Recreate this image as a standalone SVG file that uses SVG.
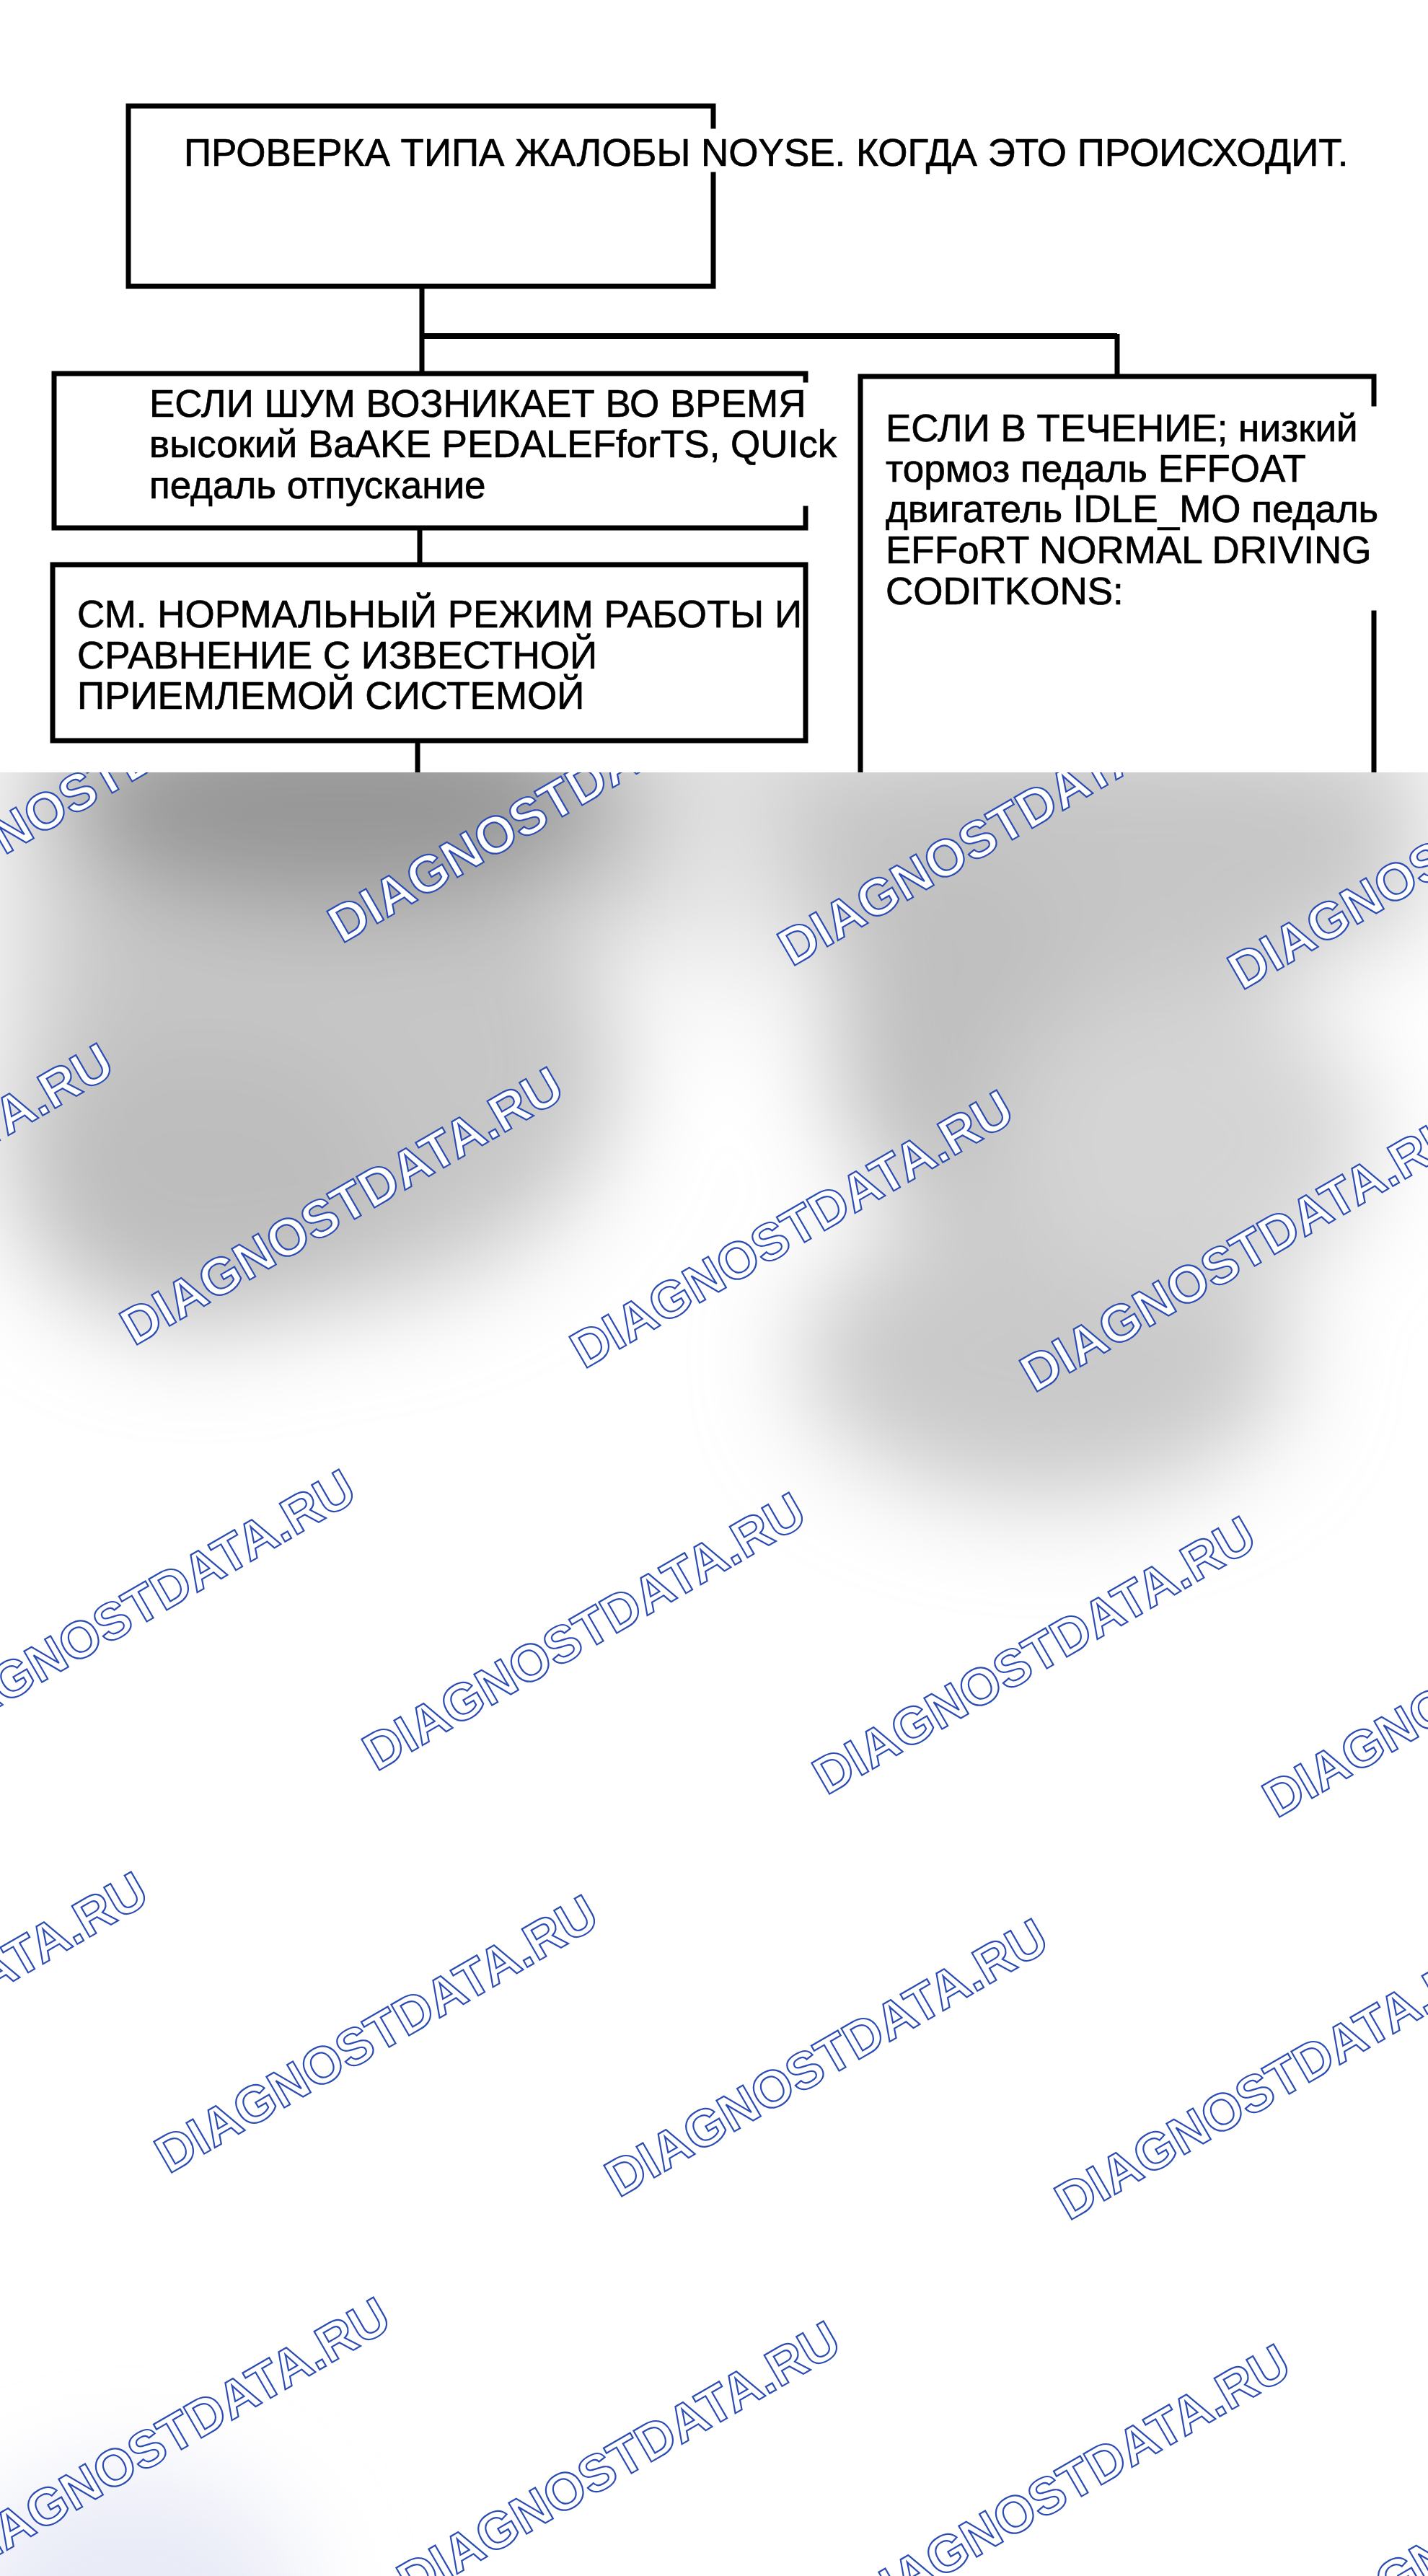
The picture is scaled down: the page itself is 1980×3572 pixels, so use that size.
<svg xmlns="http://www.w3.org/2000/svg" width="1980" height="3572" viewBox="0 0 1980 3572">
<style>
.box{fill:none;stroke:#000;stroke-width:7;stroke-linecap:square;stroke-linejoin:miter}
.con{fill:none;stroke:#000;stroke-width:7;stroke-linecap:butt}
.t{font-family:"Liberation Sans",Arial,sans-serif;fill:#000;stroke:#000;stroke-width:0.7}
.t53{font-size:53px}
.t52{font-size:53px}
.wm{font-family:"Liberation Sans",Arial,sans-serif;font-weight:bold;font-size:72px;fill:#fff;stroke:#2b4bb5;stroke-width:2.2}
</style>
<defs>
<filter id="blur" x="-100%" y="-100%" width="300%" height="300%"><feGaussianBlur stdDeviation="70"/></filter>
<clipPath id="lower"><rect x="0" y="1071" width="1980" height="2501"/></clipPath>
</defs>
<rect x="0" y="0" width="1980" height="3572" fill="#fff"/>
<g id="connectors">
<path class="con" d="M585,397 V466"/>
<path class="con" style="stroke-width:8" d="M582,466 H1549"/>
<path class="con" d="M1549,463 V522"/>
<path class="con" d="M585,466 V518"/>
<path class="con" d="M582,732 V783"/>
<path class="con" d="M579,1027 V1080"/>
</g>
<g id="node-top">
<path class="box" d="M989,175 V147 H178 V397 H989 V242"/>
<text class="t t53" x="255" y="230">ПРОВЕРКА ТИПА ЖАЛОБЫ NOYSE. КОГДА ЭТО ПРОИСХОДИТ.</text>
</g>
<g id="node-left1">
<path class="box" d="M1117,527 V518 H75 V732 H1117 V705"/>
<text class="t t52"><tspan x="207" y="578">ЕСЛИ ШУМ ВОЗНИКАЕТ ВО ВРЕМЯ</tspan><tspan x="207" y="634">высокий BaAKE PEDALEFforTS, QUIck</tspan><tspan x="207" y="691">педаль отпускание</tspan></text>
</g>
<g id="node-left2">
<rect class="box" x="73" y="783" width="1044" height="244"/>
<text class="t t52"><tspan x="107" y="870">СМ. НОРМАЛЬНЫЙ РЕЖИМ РАБОТЫ И</tspan><tspan x="107" y="927">СРАВНЕНИЕ С ИЗВЕСТНОЙ</tspan><tspan x="107" y="983">ПРИЕМЛЕМОЙ СИСТЕМОЙ</tspan></text>
</g>
<g id="node-right">
<path class="box" d="M1905,560 V522 H1193 V1080"/>
<path class="box" d="M1905,850 V1080"/>
<text class="t t52"><tspan x="1228" y="612">ЕСЛИ В ТЕЧЕНИЕ; низкий</tspan><tspan x="1228" y="668">тормоз педаль EFFOAT</tspan><tspan x="1228" y="724">двигатель IDLE_MO педаль</tspan><tspan x="1228" y="781">EFFoRT NORMAL DRIVING</tspan><tspan x="1228" y="838">CODITKONS:</tspan></text>
</g>
<g id="overlay">
<rect x="0" y="1071" width="1980" height="2501" fill="#fff"/>
<g clip-path="url(#lower)">
<g filter="url(#blur)">
<rect x="0" y="1000" width="1980" height="300" fill="#d2d2d2"/>
<ellipse cx="420" cy="1480" rx="440" ry="330" fill="#c6c6c6"/>
<ellipse cx="280" cy="1640" rx="260" ry="200" fill="#bdbdbd"/>
<ellipse cx="470" cy="1110" rx="390" ry="150" fill="#979797"/>
<ellipse cx="1500" cy="1200" rx="420" ry="200" fill="#c6c6c6"/>
<ellipse cx="1330" cy="1430" rx="180" ry="260" fill="#bfbfbf"/>
<ellipse cx="1450" cy="1880" rx="340" ry="200" fill="#c9c9c9"/>
<ellipse cx="1640" cy="1580" rx="260" ry="220" fill="#d4d4d4"/>
<ellipse cx="1010" cy="1250" rx="60" ry="200" fill="#ececec"/>
<ellipse cx="20" cy="1300" rx="50" ry="250" fill="#e6e6e6"/>
<ellipse cx="180" cy="3600" rx="240" ry="170" fill="#e8eaf6"/>
</g>
<g id="watermarks">
<text class="wm" transform="translate(-150,1276) rotate(-30)">DIAGNOSTDATA.RU</text>
<text class="wm" transform="translate(474,1309) rotate(-30)">DIAGNOSTDATA.RU</text>
<text class="wm" transform="translate(1098,1341) rotate(-30)">DIAGNOSTDATA.RU</text>
<text class="wm" transform="translate(1722,1374) rotate(-30)">DIAGNOSTDATA.RU</text>
<text class="wm" transform="translate(-438,1834) rotate(-30)">DIAGNOSTDATA.RU</text>
<text class="wm" transform="translate(186,1867) rotate(-30)">DIAGNOSTDATA.RU</text>
<text class="wm" transform="translate(810,1899) rotate(-30)">DIAGNOSTDATA.RU</text>
<text class="wm" transform="translate(1434,1932) rotate(-30)">DIAGNOSTDATA.RU</text>
<text class="wm" transform="translate(-102,2425) rotate(-30)">DIAGNOSTDATA.RU</text>
<text class="wm" transform="translate(522,2457) rotate(-30)">DIAGNOSTDATA.RU</text>
<text class="wm" transform="translate(1146,2490) rotate(-30)">DIAGNOSTDATA.RU</text>
<text class="wm" transform="translate(1770,2522) rotate(-30)">DIAGNOSTDATA.RU</text>
<text class="wm" transform="translate(-390,2983) rotate(-30)">DIAGNOSTDATA.RU</text>
<text class="wm" transform="translate(234,3015) rotate(-30)">DIAGNOSTDATA.RU</text>
<text class="wm" transform="translate(858,3048) rotate(-30)">DIAGNOSTDATA.RU</text>
<text class="wm" transform="translate(1482,3080) rotate(-30)">DIAGNOSTDATA.RU</text>
<text class="wm" transform="translate(-54,3573) rotate(-30)">DIAGNOSTDATA.RU</text>
<text class="wm" transform="translate(570,3606) rotate(-30)">DIAGNOSTDATA.RU</text>
<text class="wm" transform="translate(1194,3638) rotate(-30)">DIAGNOSTDATA.RU</text>
<text class="wm" transform="translate(1818,3671) rotate(-30)">DIAGNOSTDATA.RU</text>
</g>
</g>
</g>
</svg>
